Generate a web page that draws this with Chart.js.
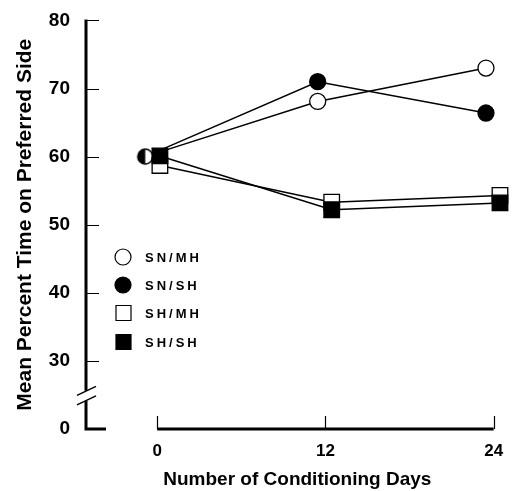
<!DOCTYPE html>
<html>
<head>
<meta charset="utf-8">
<script src="https://cdn.jsdelivr.net/npm/chart.js@4.4.0/dist/chart.umd.min.js"></script>
<style>
	body { margin: 0; background: #fff; }
	#wrap { width: 520px; height: 491px; }
</style>
</head>
<body>
<div id="wrap"><canvas id="conditioning-canvas" width="520" height="491"></canvas></div>
<script>
// data
const days = [0, 12, 24];
const snMh = [60, 68.1, 73.0];
const snSh = [60, 71.0, 66.4];
const shMh = [58.7, 53.3, 54.3];
const shSh = [60.1, 52.2, 53.2];
const yTicks = [20, 30, 40, 50, 60, 70, 80]; // 20 is drawn as the "0" below the break
const yTickLabels = ["0", "30", "40", "50", "60", "70", "80"];
const xTickLabels = ["0", "12", "24"];
const legendNames = ["SN/MH", "SN/SH", "SH/MH", "SH/SH"];

// circles sit a little left of each day, squares a little right (as printed)
const circleShift = [-0.85, -0.55, -0.55];
const squareShift = [0.2, 0.45, 0.45];

const FONT = "'Liberation Sans', Arial, sans-serif";

function pts(vals, shift) {
	return days.map((d, i) => ({ x: d + shift[i], y: vals[i] }));
}

function halfDot(r) {
	const c = document.createElement("canvas");
	const s = Math.ceil(r * 2 + 4);
	c.width = s;
	c.height = s;
	const g = c.getContext("2d");
	g.lineWidth = 1.5;
	g.beginPath();
	g.arc(s / 2, s / 2, r, 0, Math.PI * 2);
	g.fillStyle = "#fff";
	g.fill();
	g.beginPath();
	g.arc(s / 2, s / 2, r, Math.PI / 2, Math.PI * 1.5);
	g.closePath();
	g.fillStyle = "#000";
	g.fill();
	g.beginPath();
	g.arc(s / 2, s / 2, r, 0, Math.PI * 2);
	g.strokeStyle = "#000";
	g.stroke();
	return c;
}

const axesPlugin = {
	id: "brokenAxes",
	beforeDatasetsDraw(chart) {
		const ctx = chart.ctx;
		const xs = chart.scales.x;
		const ys = chart.scales.y;
		const ax = chart.chartArea.left - 1;
		const yBottom = ys.getPixelForValue(20);
		const yBreak = ys.getPixelForValue(24.9);
		ctx.save();
		ctx.strokeStyle = "#000";
		ctx.lineCap = "butt";

		// y axis with a gap for the break
		ctx.lineWidth = 3;
		ctx.beginPath();
		ctx.moveTo(ax, ys.getPixelForValue(80) - 1);
		ctx.lineTo(ax, yBreak - 5);
		ctx.moveTo(ax, yBreak + 5);
		ctx.lineTo(ax, yBottom);
		ctx.lineTo(ax + 20, yBottom);
		ctx.stroke();

		// break slashes
		ctx.lineWidth = 1.5;
		ctx.beginPath();
		[-4.7, 4.7].forEach(o => {
			ctx.moveTo(ax - 9, yBreak + o + 4.5);
			ctx.lineTo(ax + 10, yBreak + o - 4.5);
		});
		ctx.stroke();

		// y ticks pointing in
		ctx.lineWidth = 1.2;
		ctx.beginPath();
		yTicks.slice(1).forEach(v => {
			const y = Math.round(ys.getPixelForValue(v)) + 0.5;
			ctx.moveTo(ax, y);
			ctx.lineTo(ax + 13, y);
		});
		ctx.stroke();

		// x axis from day 0 to day 24
		const x0 = xs.getPixelForValue(days[0]);
		const x1 = xs.getPixelForValue(days[days.length - 1]);
		ctx.lineWidth = 3;
		ctx.beginPath();
		ctx.moveTo(x0, yBottom);
		ctx.lineTo(x1, yBottom);
		ctx.stroke();
		ctx.lineWidth = 1.2;
		ctx.beginPath();
		days.forEach(d => {
			const x = Math.round(xs.getPixelForValue(d)) + 0.5;
			ctx.moveTo(x, yBottom);
			ctx.lineTo(x, yBottom - 13);
		});
		ctx.stroke();
		ctx.restore();
	},
	afterDraw(chart) {
		// legend inside the plot, left side
		const ctx = chart.ctx;
		const rows = [257, 285, 313, 342];
		const styles = [
			{ shape: "circle", fill: "#fff" },
			{ shape: "circle", fill: "#000" },
			{ shape: "rect", fill: "#fff" },
			{ shape: "rect", fill: "#000" },
		];
		ctx.save();
		ctx.strokeStyle = "#000";
		ctx.lineWidth = 1.2;
		legendNames.forEach((name, i) => {
			const y = rows[i];
			const st = styles[i];
			ctx.fillStyle = st.fill;
			ctx.beginPath();
			if (st.shape === "circle") {
				ctx.arc(123, y, 8, 0, Math.PI * 2);
			} else {
				ctx.rect(116, y - 7.5, 15, 15);
			}
			ctx.fill();
			ctx.stroke();
			ctx.fillStyle = "#000";
			ctx.font = "bold 13px " + FONT;
			ctx.letterSpacing = "3px";
			ctx.textBaseline = "middle";
			ctx.fillText(name, 145, y + 1);
		});
		ctx.restore();
	},
};

const canvas = document.getElementById("conditioning-canvas").getContext("2d");

const chart = new Chart(canvas, {
	type: "line",
	data: {
		datasets: [
			{
				label: "SH/SH",
				data: pts(shSh, squareShift),
				pointStyle: "rect",
				pointRadius: 11,
				pointBackgroundColor: "#000",
				order: 0,
			},
			{
				label: "SH/MH",
				data: pts(shMh, squareShift),
				pointStyle: "rect",
				pointRadius: 11,
				pointBackgroundColor: "#fff",
				order: 1,
			},
			{
				label: "SN/SH",
				data: pts(snSh, circleShift),
				pointStyle: [halfDot(7.5), "circle", "circle"],
				pointRadius: 8,
				pointBackgroundColor: "#000",
				order: 2,
			},
			{
				label: "SN/MH",
				data: pts(snMh, circleShift),
				pointStyle: "circle",
				pointRadius: [0, 8, 8],
				pointBackgroundColor: "#fff",
				order: 3,
			},
		].map(ds => Object.assign({
			borderColor: "#000",
			borderWidth: 1.5,
			pointBorderColor: "#000",
			pointBorderWidth: 1.3,
			tension: 0,
			fill: false,
			clip: false,
		}, ds)),
	},
	options: {
		responsive: false,
		animation: false,
		events: [],
		layout: { padding: { top: 15, right: 3, left: 0, bottom: 0 } },
		plugins: {
			legend: { display: false },
			tooltip: { enabled: false },
		},
		scales: {
			x: {
				type: "linear",
				min: -5,
				max: 25,
				afterBuildTicks: s => { s.ticks = days.map(v => ({ value: v })); },
				afterFit: s => { s.height = 62; },
				grid: { display: false },
				border: { display: false },
				ticks: {
					autoSkip: false,
					maxRotation: 0,
					padding: 4,
					color: "#000",
					font: { family: FONT, size: 17, weight: "bold" },
					callback: v => xTickLabels[days.indexOf(v)],
				},
				title: {
					display: true,
					text: "Number of Conditioning Days",
					color: "#000",
					font: { family: FONT, size: 19, weight: "bold" },
					padding: { top: 0, bottom: 0 },
				},
			},
			y: {
				type: "linear",
				min: 20,
				max: 80,
				afterBuildTicks: s => { s.ticks = yTicks.map(v => ({ value: v })); },
				afterFit: s => { s.width = 87; },
				grid: { display: false },
				border: { display: false },
				ticks: {
					padding: 9,
					color: "#000",
					font: { family: FONT, size: 19, weight: "bold" },
					callback: v => yTickLabels[yTicks.indexOf(v)],
				},
				title: {
					display: true,
					text: "Mean Percent Time on Preferred Side",
					color: "#000",
					font: { family: FONT, size: 21, weight: "bold" },
					padding: { top: 13, bottom: 0 },
				},
			},
		},
	},
	plugins: [axesPlugin],
});
</script>
</body>
</html>
